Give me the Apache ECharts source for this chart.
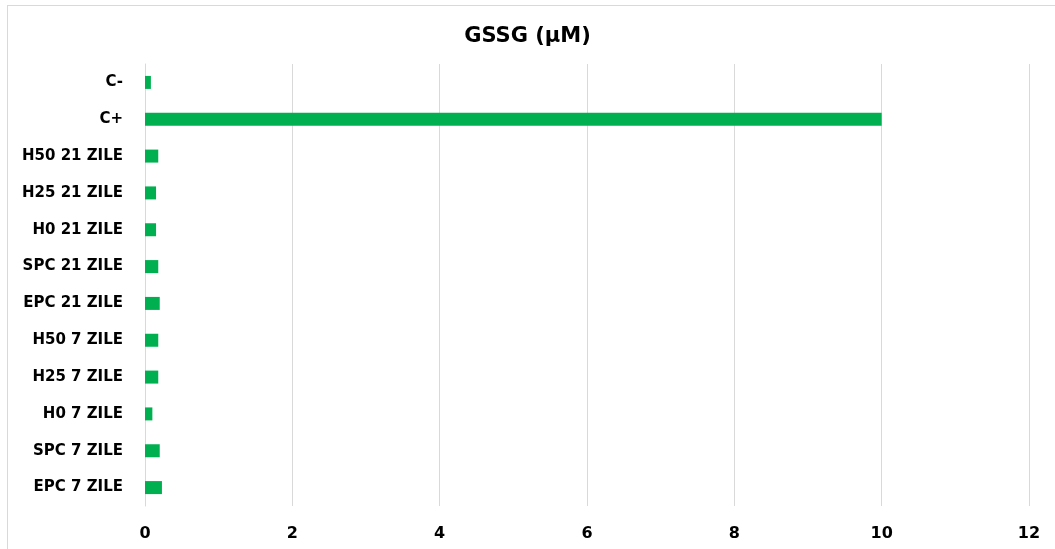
<!DOCTYPE html>
<html>
<head>
<meta charset="utf-8">
<script src="https://cdn.jsdelivr.net/npm/echarts@6/dist/echarts.min.js"></script>
<style>
  html, body { margin: 0; padding: 0; background: #fff; }
  #chart { width: 1055px; height: 549px; }
</style>
</head>
<body>
<div id="chart"></div>
<script>
// Sample groups, listed top to bottom
const categories = [
  'C-', 'C+',
  'H50 21 ZILE', 'H25 21 ZILE', 'H0 21 ZILE', 'SPC 21 ZILE', 'EPC 21 ZILE',
  'H50 7 ZILE', 'H25 7 ZILE', 'H0 7 ZILE', 'SPC 7 ZILE', 'EPC 7 ZILE'
];
// GSSG concentration (µM)
const gssgValues = [0.08, 10.0, 0.18, 0.15, 0.15, 0.18, 0.20, 0.18, 0.18, 0.10, 0.20, 0.23];
const xTicks = { min: 0, max: 12, interval: 2 };

const chart = echarts.init(document.getElementById('chart'));
chart.setOption({
  animation: false,
  backgroundColor: '#ffffff',
  title: {
    text: 'GSSG (µM)',
    left: 'center',
    top: 21,
    textStyle: { fontFamily: 'DejaVu Sans', fontWeight: 'bold', fontSize: 21, color: '#000' }
  },
  graphic: [
    { type: 'line', shape: { x1: 7, y1: 5.5, x2: 1055, y2: 5.5 }, style: { stroke: '#d9d9d9', lineWidth: 1 } },
    { type: 'line', shape: { x1: 7.5, y1: 5, x2: 7.5, y2: 549 }, style: { stroke: '#d9d9d9', lineWidth: 1 } }
  ],
  grid: { left: 145, right: 26, top: 64, bottom: 43, containLabel: false },
  xAxis: {
    type: 'value',
    min: xTicks.min, max: xTicks.max, interval: xTicks.interval,
    axisLine: { show: false },
    axisTick: { show: false },
    splitLine: { lineStyle: { color: '#d9d9d9', width: 1 } },
    axisLabel: { margin: 20, fontFamily: 'DejaVu Sans', fontWeight: 'bold', fontSize: 16, color: '#000' }
  },
  yAxis: {
    type: 'category',
    inverse: true,
    data: categories,
    axisLine: { show: true, lineStyle: { color: '#d9d9d9', width: 1 } },
    axisTick: { show: false },
    axisLabel: { margin: 22, fontFamily: 'DejaVu Sans', fontWeight: 'bold', fontSize: 15, color: '#000' }
  },
  series: [{
    type: 'bar',
    data: gssgValues,
    barWidth: 13,
    itemStyle: { color: '#00b050' }
  }]
});
</script>
</body>
</html>
